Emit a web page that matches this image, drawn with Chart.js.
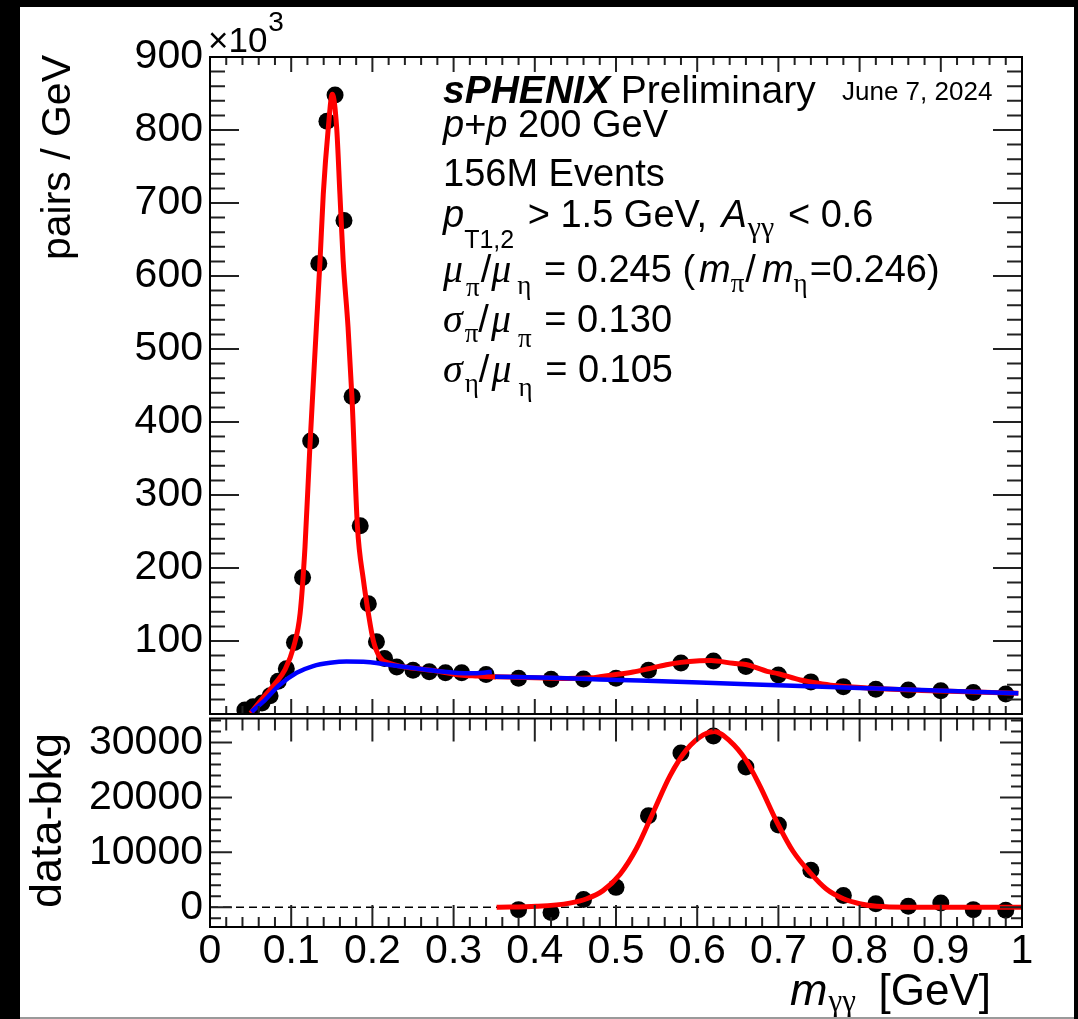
<!DOCTYPE html>
<html>
<head>
<meta charset="utf-8">
<title>sPHENIX diphoton invariant mass</title>
<script src="https://cdn.jsdelivr.net/npm/chart.js@4.4.1/dist/chart.umd.min.js"></script>
<style>
  html, body { margin: 0; padding: 0; width: 1078px; height: 1019px; background: #000; overflow: hidden; }
  #sheet { position: absolute; left: 20px; top: 7px; width: 1054px; height: 1010px; background: #fff; border-bottom: 2px solid #9a9a9a; }
  #sheet canvas { position: absolute; left: 0; }
  #topPad { top: 0; }
  #bottomPad { top: 703px; }
</style>
</head>
<body>
<div id="sheet">
  <canvas id="topPad" width="1054" height="720"></canvas>
  <canvas id="bottomPad" width="1054" height="307"></canvas>
</div>
<script>
// ---- data ----
// upper pad: diphoton pairs / GeV
const massUpper = [0.043, 0.053, 0.064, 0.074, 0.084, 0.094, 0.104, 0.114, 0.124, 0.134,
                   0.144, 0.154, 0.165, 0.175, 0.185, 0.195, 0.205, 0.215, 0.23, 0.25,
                   0.27, 0.29, 0.31, 0.34, 0.38, 0.42, 0.46, 0.50, 0.54, 0.58,
                   0.62, 0.66, 0.70, 0.74, 0.78, 0.82, 0.86, 0.90, 0.94, 0.98];
const pairsUpper = [5500, 10000, 15000, 25000, 45000, 62000, 98000, 187000, 374000, 617000,
                    812000, 848000, 676000, 435000, 258000, 151000, 99000, 76000, 64500, 60000,
                    58000, 56500, 56500, 54000, 49000, 47500, 48000, 49000, 60000, 70000,
                    72500, 65000, 53500, 44000, 37500, 34000, 32800, 32000, 29600, 27400];

// pi0 fit (red) and its background (blue)
const pi0FitMass = [0.05, 0.066, 0.082, 0.092, 0.103, 0.111, 0.117, 0.123, 0.131, 0.1355,
                    0.1395, 0.1457, 0.1506, 0.156, 0.160, 0.164, 0.170, 0.175, 0.1815, 0.189,
                    0.195, 0.201, 0.209, 0.222, 0.238, 0.279, 0.308, 0.33, 0.352];
const pi0FitPairs = [1000, 23000, 44000, 60000, 92000, 138000, 229000, 366000, 530000, 621000,
                     712000, 803000, 849000, 803000, 712000, 621000, 530000, 430000, 258000, 183000,
                     138000, 101000, 78000, 69000, 64700, 59000, 53500, 52000, 50600];
const pi0BkgMass = [0.051, 0.0657, 0.086, 0.1067, 0.127, 0.148, 0.168, 0.189, 0.205, 0.222,
                    0.238, 0.279, 0.320, 0.3366, 0.347];
const pi0BkgPairs = [3000, 17000, 40000, 56500, 65700, 70200, 72000, 71500, 70000, 67000,
                     64700, 59000, 55700, 56500, 58000];

// eta fit (red) and its background (blue)
const etaFitMass = [0.351, 0.40, 0.44, 0.47, 0.48, 0.50, 0.521, 0.54, 0.562, 0.58,
                    0.603, 0.617, 0.644, 0.66, 0.686, 0.70, 0.727, 0.74, 0.768, 0.782,
                    0.82, 0.90, 0.9955];
const etaFitPairs = [51000, 49700, 48700, 49500, 51000, 54000, 57500, 62000, 67500, 70700,
                     72800, 73200, 69400, 67800, 58500, 55200, 46500, 44000, 39000, 37800,
                     35000, 31500, 28300];
const etaBkgMass = [0.351, 0.42, 0.48, 0.603, 0.727, 0.85, 0.9955];
const etaBkgPairs = [51000, 49500, 47400, 43300, 38300, 33800, 28300];

// lower pad: data - background
const massLower = [0.38, 0.42, 0.46, 0.50, 0.54, 0.58, 0.62, 0.66,
                   0.70, 0.74, 0.78, 0.82, 0.86, 0.90, 0.94, 0.98];
const excessLower = [-420, -950, 1430, 3630, 16640, 28090, 31180, 25530,
                     14970, 6740, 2150, 660, 180, 770, -420, -540];
const etaSignalMass = [0.353, 0.402, 0.443, 0.464, 0.484, 0.505, 0.5255, 0.546, 0.5665, 0.587,
                       0.6075, 0.621, 0.64, 0.66, 0.677, 0.698, 0.718, 0.739, 0.759, 0.78,
                       0.80, 0.821, 0.86, 1.0];
const etaSignalPairs = [0, 180, 770, 1560, 3040, 6030, 10790, 17350, 23920, 28680,
                        31360, 32000, 30300, 26800, 22130, 15560, 10200, 6320, 3340, 1560,
                        660, 180, 20, 0];
const zeroMass = [0, 1];
const zeroPairs = [0, 0];

// tick values and labels
const massTicks = [0, 0.1, 0.2, 0.3, 0.4, 0.5, 0.6, 0.7, 0.8, 0.9, 1];
const massTickLabels = ['0', '0.1', '0.2', '0.3', '0.4', '0.5', '0.6', '0.7', '0.8', '0.9', '1'];
const upperTicks = [100000, 200000, 300000, 400000, 500000, 600000, 700000, 800000, 900000];
const upperTickLabels = ['100', '200', '300', '400', '500', '600', '700', '800', '900'];
const lowerTicks = [0, 10000, 20000, 30000];
const lowerTickLabels = ['0', '10000', '20000', '30000'];

// ---- drawing helpers ----
const SANS = '"Liberation Sans", Arial, Helvetica, sans-serif';
const SERIF = '"Liberation Serif", "Times New Roman", serif';
const RED = '#ff0000';
const BLUE = '#0000ff';
const font = (size, style = '', family = SANS) => `${style} ${size}px ${family}`.trim();
const xy = (xs, ys) => xs.map((x, i) => ({ x, y: ys[i] }));

Chart.defaults.font.family = SANS;

const curve = (xs, ys, color, width) => ({
    data: xy(xs, ys),
    showLine: true,
    borderColor: color,
    borderWidth: width,
    pointRadius: 0,
    cubicInterpolationMode: 'monotone',
    clip: 0
});

const dots = (xs, ys) => ({
    data: xy(xs, ys),
    pointRadius: 8.5,
    pointHoverRadius: 8.5,
    pointBackgroundColor: '#000',
    pointBorderWidth: 0,
    clip: 0
});

// fixed tick list for a scale, labels looked up from the matching array
const fixedTicks = (values, labels) => ({
    afterBuildTicks: s => { s.ticks = values.map(value => ({ value })); },
    callback: (v, i) => labels[i]
});

function drawRich(ctx, x, y, parts) {
    for (const p of parts) {
        ctx.font = p.font;
        x += p.dx || 0;
        ctx.fillText(p.t, x, y + (p.dy || 0));
        x += ctx.measureText(p.t).width;
    }
    return x;
}

// ROOT style frame: ticks on all four sides, pointing inwards
function rootTicks(o) {
    return {
        id: 'rootTicks',
        afterDatasetsDraw(chart) {
            const { ctx, chartArea: a, scales: { x, y } } = chart;
            ctx.save();
            ctx.strokeStyle = '#222';
            ctx.lineWidth = 2;
            ctx.beginPath();
            for (let i = 0; i <= o.yCount; i++) {
                const v = o.yStart + i * o.yStep;
                const py = y.getPixelForValue(v);
                if (py < a.top || py > a.bottom) continue;
                const len = Math.round(v) % o.yMajor === 0 ? o.yLong : o.yShort;
                ctx.moveTo(a.left, py); ctx.lineTo(a.left + len, py);
                ctx.moveTo(a.right, py); ctx.lineTo(a.right - len, py);
            }
            for (let i = 0; i <= 50; i++) {
                const px = x.getPixelForValue(i / 50);
                const major = i % 5 === 0;
                ctx.moveTo(px, a.top); ctx.lineTo(px, a.top + (major ? o.topLong : o.topShort));
                ctx.moveTo(px, a.bottom); ctx.lineTo(px, a.bottom - (major ? o.botLong : o.botShort));
            }
            ctx.stroke();
            ctx.strokeStyle = '#000';
            ctx.strokeRect(a.left, a.top, a.right - a.left, a.bottom - a.top);
            ctx.restore();
        }
    };
}

const upperDecor = {
    id: 'upperDecor',
    afterDraw(chart) {
        const ctx = chart.ctx;
        ctx.save();
        ctx.fillStyle = '#000';
        ctx.textAlign = 'left';
        ctx.textBaseline = 'alphabetic';

        drawRich(ctx, 188, 45, [
            { t: '×10', font: font(35) },
            { t: '3', font: font(28), dy: -21, dx: 1 }
        ]);

        const x0 = 423;
        drawRich(ctx, x0, 96, [
            { t: 'sPHENIX', font: font(39, 'italic bold') },
            { t: ' Preliminary', font: font(39) }
        ]);
        ctx.font = font(26);
        ctx.fillText('June 7, 2024', 822, 93);

        drawRich(ctx, x0, 130, [
            { t: 'p', font: font(38, 'italic') },
            { t: '+', font: font(38) },
            { t: 'p', font: font(38, 'italic') },
            { t: ' 200 GeV', font: font(38) }
        ]);
        drawRich(ctx, x0, 179, [{ t: '156M Events', font: font(38) }]);
        drawRich(ctx, x0, 220, [
            { t: 'p', font: font(38, 'italic') },
            { t: 'T1,2', font: font(25), dy: 21 },
            { t: ' > 1.5 GeV, ', font: font(38), dx: 3 },
            { t: 'A', font: font(38, 'italic'), dx: 4 },
            { t: 'γγ', font: font(30, '', SERIF), dy: 10, dx: 1 },
            { t: ' < 0.6', font: font(38), dx: 3 }
        ]);
        drawRich(ctx, x0, 275, [
            { t: 'μ', font: font(40, 'italic', SERIF) },
            { t: 'π', font: font(27, '', SERIF), dy: 14, dx: 3 },
            { t: '/', font: font(38), dx: 1 },
            { t: 'μ', font: font(40, 'italic', SERIF) },
            { t: 'η', font: font(27, '', SERIF), dy: 12, dx: 6 },
            { t: ' = 0.245 (', font: font(38), dx: 2 },
            { t: 'm', font: font(38, 'italic'), dx: 4 },
            { t: 'π', font: font(27, '', SERIF), dy: 10 },
            { t: '/', font: font(38), dx: 1 },
            { t: 'm', font: font(38, 'italic'), dx: 6 },
            { t: 'η', font: font(27, '', SERIF), dy: 10 },
            { t: '=0.246)', font: font(38), dx: 2 }
        ]);
        drawRich(ctx, x0, 325, [
            { t: 'σ', font: font(40, 'italic', SERIF) },
            { t: 'π', font: font(27, '', SERIF), dy: 10, dx: 2 },
            { t: '/', font: font(38) },
            { t: 'μ', font: font(40, 'italic', SERIF), dx: 2 },
            { t: 'π', font: font(27, '', SERIF), dy: 15, dx: 7 },
            { t: ' = 0.130', font: font(38), dx: 2 }
        ]);
        drawRich(ctx, x0, 375, [
            { t: 'σ', font: font(40, 'italic', SERIF) },
            { t: 'η', font: font(27, '', SERIF), dy: 10, dx: 2 },
            { t: '/', font: font(38) },
            { t: 'μ', font: font(40, 'italic', SERIF), dx: 2 },
            { t: 'η', font: font(27, '', SERIF), dy: 14, dx: 7 },
            { t: ' = 0.105', font: font(38), dx: 2 }
        ]);

        // y title, aligned to the top of the axis
        ctx.translate(50, 48);
        ctx.rotate(-Math.PI / 2);
        ctx.textAlign = 'right';
        ctx.font = font(41);
        ctx.fillText('pairs / GeV', 0, 0);
        ctx.restore();
    }
};

const lowerDecor = {
    id: 'lowerDecor',
    afterDraw(chart) {
        const ctx = chart.ctx;
        ctx.save();
        ctx.fillStyle = '#000';
        ctx.textBaseline = 'alphabetic';
        ctx.textAlign = 'left';
        drawRich(ctx, 770, 295, [
            { t: 'm', font: font(45, 'italic') },
            { t: 'γγ', font: font(31, '', SERIF), dy: 6, dx: 1 }
        ]);
        ctx.textAlign = 'right';
        ctx.font = font(44);
        ctx.fillText('[GeV]', 971, 295);

        ctx.translate(41, 23);
        ctx.rotate(-Math.PI / 2);
        ctx.font = font(45);
        ctx.fillText('data-bkg', 0, 0);
        ctx.restore();
    }
};

const tickFont = { family: SANS, size: 41 };
const baseOptions = {
    responsive: false,
    animation: false,
    devicePixelRatio: 1,
    events: [],
    plugins: { legend: { display: false }, tooltip: { enabled: false } }
};
const hiddenGrid = { display: false, drawTicks: false };

// upper pad
new Chart(document.getElementById('topPad'), {
    type: 'scatter',
    data: {
        datasets: [
            curve(pi0BkgMass, pi0BkgPairs, BLUE, 4.5),
            curve(etaBkgMass, etaBkgPairs, BLUE, 4.5),
            curve(pi0FitMass, pi0FitPairs, RED, 5),
            curve(etaFitMass, etaFitPairs, RED, 5),
            dots(massUpper, pairsUpper)
        ]
    },
    options: {
        ...baseOptions,
        layout: { padding: { top: 50, right: 52, bottom: 13, left: 0 } },
        scales: {
            x: { type: 'linear', min: 0, max: 1, display: false },
            y: {
                min: 0,
                max: 900000,
                afterFit: s => { s.width = 190; s.paddingTop = 0; s.paddingBottom = 0; },
                afterBuildTicks: fixedTicks(upperTicks, upperTickLabels).afterBuildTicks,
                grid: hiddenGrid,
                border: { display: false },
                ticks: {
                    padding: 7,
                    color: '#000',
                    font: tickFont,
                    autoSkip: false,
                    callback: fixedTicks(upperTicks, upperTickLabels).callback
                }
            }
        }
    },
    plugins: [
        rootTicks({ yStart: 0, yStep: 20000, yCount: 45, yMajor: 100000, yLong: 29, yShort: 15,
                    topLong: 15, topShort: 8, botLong: 15, botShort: 8 }),
        upperDecor
    ]
});

// lower pad
new Chart(document.getElementById('bottomPad'), {
    type: 'scatter',
    data: {
        datasets: [
            curve(etaSignalMass, etaSignalPairs, RED, 5),
            dots(massLower, excessLower),
            {
                data: xy(zeroMass, zeroPairs),
                showLine: true,
                borderColor: '#000',
                borderWidth: 1.5,
                borderDash: [8, 5],
                pointRadius: 0
            }
        ]
    },
    options: {
        ...baseOptions,
        layout: { padding: { top: 5, right: 52, bottom: 0, left: 0 } },
        scales: {
            x: {
                type: 'linear',
                min: 0,
                max: 1,
                afterFit: s => { s.height = 90; s.paddingLeft = 0; s.paddingRight = 0; },
                afterBuildTicks: fixedTicks(massTicks, massTickLabels).afterBuildTicks,
                grid: hiddenGrid,
                border: { display: false },
                ticks: {
                    autoSkip: false,
                    maxRotation: 0,
                    minRotation: 0,
                    padding: 0,
                    color: '#000',
                    font: tickFont,
                    callback: fixedTicks(massTicks, massTickLabels).callback
                }
            },
            y: {
                min: -3580,
                max: 34350,
                afterFit: s => { s.width = 190; s.paddingTop = 0; s.paddingBottom = 0; },
                afterBuildTicks: fixedTicks(lowerTicks, lowerTickLabels).afterBuildTicks,
                grid: hiddenGrid,
                border: { display: false },
                ticks: {
                    padding: 7,
                    color: '#000',
                    font: tickFont,
                    autoSkip: false,
                    callback: fixedTicks(lowerTicks, lowerTickLabels).callback
                }
            }
        }
    },
    plugins: [
        rootTicks({ yStart: -2000, yStep: 2000, yCount: 18, yMajor: 10000, yLong: 22, yShort: 11,
                    topLong: 23, topShort: 12, botLong: 22, botShort: 10 }),
        lowerDecor
    ]
});
</script>
</body>
</html>
